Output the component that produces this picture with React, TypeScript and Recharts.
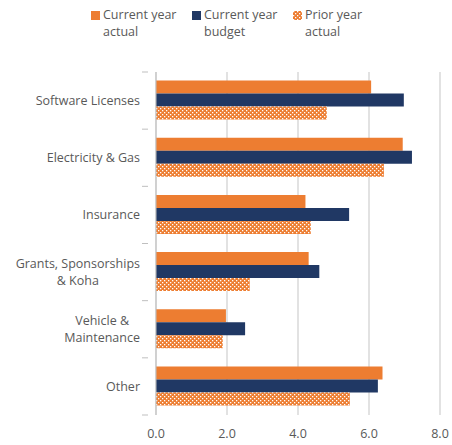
import { BarChart, Bar, XAxis, YAxis, CartesianGrid } from "recharts";

const categories = [
  "Software Licenses",
  "Electricity & Gas",
  "Insurance",
  "Grants, Sponsorships\n& Koha",
  "Vehicle &\nMaintenance",
  "Other",
];
const currentActual = [6.06, 6.95, 4.21, 4.3, 1.97, 6.38];
const currentBudget = [6.98, 7.21, 5.44, 4.6, 2.51, 6.25];
const priorActual = [4.81, 6.42, 4.36, 2.64, 1.88, 5.46];
const xTicks = [0, 2, 4, 6, 8];

const seriesNames = ["Current year\nactual", "Current year\nbudget", "Prior year\nactual"];

const data = categories.map((c, i) => ({
  name: c,
  actual: currentActual[i],
  budget: currentBudget[i],
  prior: priorActual[i],
}));

const ORANGE = "#ED7D31";
const NAVY = "#203864";
const TEXT = "#595959";
const FONT = "'Open Sans', sans-serif";
const LABEL_SIZE = 12.5;

let ctx: CanvasRenderingContext2D | null = null;
function measure(s: string) {
  if (!ctx) ctx = document.createElement("canvas").getContext("2d");
  if (!ctx) return s.length * 6;
  ctx.font = `${LABEL_SIZE}px ${FONT}`;
  return ctx.measureText(s).width;
}

function Checker({ id }: { id: string }) {
  return (
    <pattern id={id} width={4} height={4} patternUnits="userSpaceOnUse">
      <rect width={4} height={4} fill={ORANGE} />
      <rect width={1.3} height={1.3} fill="#fff" />
      <rect x={2} y={2} width={1.3} height={1.3} fill="#fff" />
    </pattern>
  );
}

function CategoryTick(props: any) {
  const { x, y, payload, index } = props;
  const lines = String(payload.value).split("\n");
  const w = Math.max(...lines.map(measure));
  const cx = x - 8 - w / 2;
  const off = payload.offset ?? 0;
  const lh = 17;
  const y0 = y - ((lines.length - 1) * lh) / 2;
  return (
    <g>
      <line x1={x - 6} x2={x} y1={y - off} y2={y - off} stroke="#bfbfbf" />
      {index === categories.length - 1 && (
        <line x1={x - 6} x2={x} y1={y + off} y2={y + off} stroke="#bfbfbf" />
      )}
      <text textAnchor="middle" fill={TEXT} fontSize={LABEL_SIZE} fontFamily={FONT}>
        {lines.map((l, i) => (
          <tspan key={i} x={cx} y={y0 + i * lh} dy="0.35em">
            {l}
          </tspan>
        ))}
      </text>
    </g>
  );
}

function Legend() {
  const items = [
    { label: seriesNames[0], fill: ORANGE },
    { label: seriesNames[1], fill: NAVY },
    { label: seriesNames[2], fill: "url(#lgchk)" },
  ];
  return (
    <div style={{ position: "absolute", top: 6, left: 91, display: "flex", fontFamily: FONT, fontSize: 12.5, color: TEXT }}>
      {items.map((it, i) => (
        <div key={i} style={{ display: "flex", width: 101, alignItems: "flex-start" }}>
          <svg width={10} height={10} style={{ marginTop: 5, marginRight: 2 }}>
            <defs>
              <Checker id="lgchk" />
            </defs>
            <rect width={9} height={9} fill={it.fill} />
          </svg>
          <div style={{ whiteSpace: "pre", lineHeight: "17px" }}>{it.label}</div>
        </div>
      ))}
    </div>
  );
}

export default function App() {
  return (
    <div style={{ position: "absolute", top: 0, left: 0, width: 452, height: 445, background: "#fff" }}>
      <Legend />
      <BarChart
        width={452}
        height={445}
        data={data}
        layout="vertical"
        margin={{ top: 72, right: 12, bottom: 0, left: 0 }}
        barCategoryGap="15%"
        barGap={0}
      >
        <defs>
          <Checker id="checker" />
        </defs>
        <CartesianGrid horizontal={false} stroke="#d9d9d9" strokeWidth={1.5} />
        <XAxis
          type="number"
          domain={[0, 8]}
          ticks={xTicks}
          tickFormatter={(v: number) => v.toFixed(1)}
          axisLine={false}
          tickLine={false}
          tick={{ fill: TEXT, fontSize: 12.5, fontFamily: FONT }}
          tickMargin={8}
          height={30}
        />
        <YAxis
          type="category"
          dataKey="name"
          width={156}
          axisLine={{ stroke: "#bfbfbf" }}
          tickLine={false}
          tick={<CategoryTick />}
          interval={0}
        />
        <Bar dataKey="actual" fill={ORANGE} isAnimationActive={false} />
        <Bar dataKey="budget" fill={NAVY} isAnimationActive={false} />
        <Bar dataKey="prior" fill="url(#checker)" isAnimationActive={false} />
      </BarChart>
    </div>
  );
}
